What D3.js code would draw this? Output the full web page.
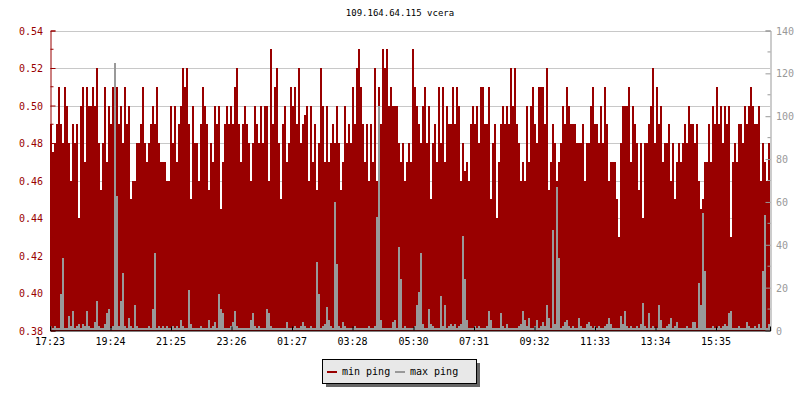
<!DOCTYPE html>
<html><head><meta charset="utf-8">
<script src="https://cdn.jsdelivr.net/npm/d3@7/dist/d3.min.js"></script>
<style>
html,body{margin:0;padding:0;background:#fff;}
svg{display:block;}
text{font-family:"DejaVu Sans Mono","Liberation Mono",monospace;}
</style></head>
<body><svg id="chart" width="800" height="400"></svg>
<script>
const title = "109.164.64.115 vcera";
const seriesNames = ["min ping", "max ping"];
const sampleStepMinutes = 4;
// min ping (ms), left axis
const minPing = [
0.49,0.475,0.48,0.49,0.51,0.49,0.48,0.51,0.50,0.48,0.46,0.49,0.48,0.49,0.44,0.50,0.51,0.47,0.51,0.50,
0.50,0.51,0.50,0.52,0.48,0.455,0.48,0.51,0.47,0.50,0.49,0.51,0.47,0.51,0.49,0.50,0.48,0.51,0.49,0.50,
0.45,0.46,0.46,0.48,0.48,0.49,0.51,0.48,0.47,0.48,0.49,0.50,0.49,0.51,0.48,0.47,0.47,0.47,0.46,0.46,
0.50,0.48,0.50,0.47,0.49,0.50,0.52,0.51,0.52,0.49,0.45,0.50,0.48,0.48,0.46,0.49,0.51,0.50,0.49,0.455,
0.48,0.47,0.50,0.49,0.50,0.445,0.47,0.49,0.50,0.49,0.50,0.49,0.51,0.52,0.49,0.47,0.49,0.50,0.49,0.48,
0.46,0.48,0.50,0.49,0.48,0.50,0.48,0.50,0.50,0.46,0.53,0.49,0.51,0.52,0.48,0.45,0.49,0.50,0.47,0.48,
0.51,0.50,0.51,0.49,0.52,0.48,0.49,0.495,0.50,0.46,0.50,0.47,0.49,0.455,0.48,0.52,0.50,0.47,0.50,0.47,
0.48,0.49,0.48,0.50,0.48,0.455,0.47,0.50,0.48,0.49,0.48,0.51,0.49,0.52,0.53,0.51,0.49,0.47,0.49,0.46,
0.49,0.47,0.52,0.46,0.51,0.49,0.53,0.52,0.53,0.50,0.51,0.50,0.50,0.50,0.48,0.47,0.48,0.46,0.47,0.48,
0.47,0.53,0.51,0.50,0.49,0.48,0.50,0.51,0.48,0.50,0.45,0.48,0.49,0.47,0.51,0.48,0.51,0.47,0.50,0.49,
0.49,0.51,0.49,0.51,0.50,0.46,0.48,0.465,0.47,0.46,0.49,0.50,0.49,0.50,0.48,0.51,0.51,0.49,0.49,0.51,
0.45,0.48,0.49,0.44,0.47,0.49,0.50,0.49,0.50,0.49,0.52,0.50,0.52,0.49,0.48,0.46,0.47,0.46,0.50,0.47,
0.50,0.51,0.49,0.48,0.51,0.51,0.51,0.49,0.52,0.455,0.47,0.49,0.48,0.46,0.47,0.48,0.50,0.49,0.51,0.50,
0.49,0.49,0.49,0.48,0.48,0.48,0.49,0.46,0.48,0.48,0.50,0.51,0.49,0.49,0.48,0.50,0.48,0.51,0.49,0.46,
0.47,0.47,0.47,0.45,0.43,0.48,0.50,0.50,0.50,0.51,0.47,0.50,0.49,0.48,0.455,0.48,0.44,0.48,0.48,0.49,
0.50,0.52,0.48,0.51,0.49,0.50,0.47,0.48,0.48,0.49,0.46,0.48,0.45,0.47,0.48,0.47,0.48,0.49,0.48,0.50,
0.49,0.49,0.48,0.49,0.46,0.445,0.45,0.47,0.47,0.49,0.47,0.50,0.49,0.51,0.49,0.50,0.48,0.50,0.49,0.50,
0.43,0.47,0.48,0.47,0.49,0.49,0.48,0.50,0.49,0.50,0.51,0.50,0.49,0.49,0.50,0.46,0.48,0.47,0.46,0.48
];
// max ping (ms), right axis
const maxPing = [
2,1,2,1,1,17,34,1,1,7,2,9,1,2,3,1,3,2,9,2,1,1,4,14,2,1,1,3,8,10,1,2,125,63,2,14,27,2,1,6,2,1,12,2,1,1,1,1,1,2,1,10,36,1,2,1,2,1,2,1,
1,2,1,2,1,5,2,1,1,19,3,1,1,1,1,2,1,1,1,5,1,2,4,1,17,10,8,1,1,1,2,4,9,2,1,1,1,1,1,1,5,8,2,1,2,1,1,1,10,8,2,1,1,1,1,1,1,1,4,1,
1,1,2,1,1,2,4,2,1,1,2,1,1,32,17,1,2,3,11,5,2,1,60,31,2,1,4,2,1,1,1,1,2,1,1,1,1,1,1,2,1,1,2,53,105,5,1,1,1,1,1,4,5,1,39,24,1,2,1,1,
1,1,2,12,18,36,3,1,1,10,3,2,1,1,1,16,2,12,1,2,3,2,3,1,2,3,44,24,5,1,1,1,2,1,2,1,1,1,2,9,5,1,1,1,1,8,2,1,3,1,1,1,1,1,2,3,9,5,2,6,
1,1,2,5,1,2,4,2,12,6,1,47,3,67,34,1,2,4,5,2,1,2,1,1,6,2,1,1,3,4,2,1,2,1,2,1,1,2,3,6,3,1,1,1,1,7,3,9,2,1,2,1,1,2,1,3,13,2,1,8,
1,2,1,1,12,5,1,1,2,3,6,1,2,4,1,1,1,1,2,1,1,4,4,1,22,12,55,28,1,1,1,2,1,1,2,1,2,3,2,8,9,1,1,1,2,1,1,1,4,2,1,1,2,1,3,1,28,54,1,3
];
const leftTicks = [0.38,0.40,0.42,0.44,0.46,0.48,0.50,0.52,0.54];
const rightTicks = [0,20,40,60,80,100,120,140];
const tickMinutes = [0,121,242,363,484,605,727,848,969,1090,1211,1332];
const tickLabels = ["17:23","19:24","21:25","23:26","01:27","03:28","05:30","07:31","09:32","11:33","13:34","15:35"];

const RED = "#990000", GRAY = "#999999";
const svg = d3.select("#chart");
const L = 50, R = 770, T = 30.5, B = 330.5;

const x = d3.scaleLinear().domain([0, 1440]).range([L, R]);
const yL = d3.scaleLinear().domain([0.38, 0.54]).range([B, T]);
const yR = d3.scaleLinear().domain([0, 140]).range([B, T]);

// title
svg.append("text").attr("x", 400).attr("y", 16).attr("text-anchor", "middle")
  .attr("font-size", 9).attr("fill", "#000").text(title);

// grid
svg.append("g").selectAll("line").data(leftTicks.slice(1)).join("line")
  .attr("x1", L).attr("x2", R).attr("y1", d => Math.round(yL(d)) + 0.5).attr("y2", d => Math.round(yL(d)) + 0.5)
  .attr("stroke", "#c8c8c8").attr("stroke-width", 1);

// min ping area
const minData = minPing.map((v, i) => ({t: i * sampleStepMinutes, v}));
minData.push({t: 1440, v: minPing[minPing.length - 1]});
svg.append("path").datum(minData)
  .attr("d", d3.area().curve(d3.curveStepAfter).x(d => x(d.t)).y0(B).y1(d => yL(d.v)))
  .attr("fill", RED).attr("shape-rendering", "crispEdges");

// max ping (filled step)
const maxData = maxPing.map((v, i) => ({t: i * sampleStepMinutes, v}));
maxData.push({t: 1440, v: maxPing[maxPing.length - 1]});
svg.append("path").datum(maxData)
  .attr("d", d3.area().curve(d3.curveStepAfter).x(d => x(d.t)).y0(B - 1).y1(d => Math.min(B - 2, yR(d.v))))
  .attr("fill", GRAY).attr("shape-rendering", "crispEdges");

// left axis
const gL = svg.append("g").attr("transform", `translate(${L + 0.5},0)`);
gL.call(d3.axisRight(yL).tickValues(leftTicks).tickSize(5).tickFormat(""));
gL.call(g => g.select(".domain").attr("stroke", RED));
gL.selectAll(".tick line").attr("stroke", RED);
const leftMinor = leftTicks.slice(0, -1).map((d, i) => (d + leftTicks[i + 1]) / 2);
gL.selectAll("line.minor").data(leftMinor).join("line").attr("class", "minor")
  .attr("x1", 0).attr("x2", 3).attr("y1", d => yL(d)).attr("y2", d => yL(d)).attr("stroke", RED);
svg.append("g").selectAll("text").data(leftTicks).join("text")
  .attr("x", 43).attr("y", d => yL(d) + 4).attr("text-anchor", "end")
  .attr("font-size", 10).attr("fill", RED).text(d => d.toFixed(2));

// right axis
const gR = svg.append("g").attr("transform", `translate(${R + 0.5},0)`);
gR.call(d3.axisLeft(yR).tickValues(rightTicks).tickSize(5).tickFormat(""));
gR.call(g => g.select(".domain").attr("stroke", GRAY));
gR.selectAll(".tick line").attr("stroke", GRAY);
const rightMinor = rightTicks.slice(0, -1).map((d, i) => (d + rightTicks[i + 1]) / 2);
gR.selectAll("line.minor").data(rightMinor).join("line").attr("class", "minor")
  .attr("x1", 0).attr("x2", -3).attr("y1", d => yR(d)).attr("y2", d => yR(d)).attr("stroke", GRAY);
svg.append("g").selectAll("text").data(rightTicks).join("text")
  .attr("x", 776).attr("y", d => yR(d) + 4).attr("text-anchor", "start")
  .attr("font-size", 10).attr("fill", GRAY).text(d => d);

// x axis
const gX = svg.append("g").attr("transform", `translate(0,${B})`);
gX.call(d3.axisTop(x).tickValues(tickMinutes).tickSize(4).tickFormat(""));
gX.call(g => g.select(".domain").attr("stroke", "#000"));
gX.selectAll(".tick line").attr("stroke", "#000");
svg.append("g").selectAll("text").data(tickMinutes).join("text")
  .attr("x", d => x(d)).attr("y", 345).attr("text-anchor", "middle")
  .attr("font-size", 10).attr("fill", "#000").text((d, i) => tickLabels[i]);

// legend
const lg = svg.append("g");
lg.append("rect").attr("x", 326).attr("y", 363).attr("width", 154).attr("height", 24).attr("fill", "#666");
lg.append("rect").attr("x", 322.5).attr("y", 359.5).attr("width", 154).attr("height", 24)
  .attr("fill", "#e8e8e8").attr("stroke", "#000").attr("stroke-width", 1);
const items = [{name: seriesNames[0], color: RED, x: 327}, {name: seriesNames[1], color: GRAY, x: 395}];
items.forEach(it => {
  lg.append("line").attr("x1", it.x).attr("x2", it.x + 10).attr("y1", 372).attr("y2", 372)
    .attr("stroke", it.color).attr("stroke-width", 2);
  lg.append("text").attr("x", it.x + 15).attr("y", 375).attr("font-size", 10).attr("fill", "#000").text(it.name);
});
</script></body></html>
